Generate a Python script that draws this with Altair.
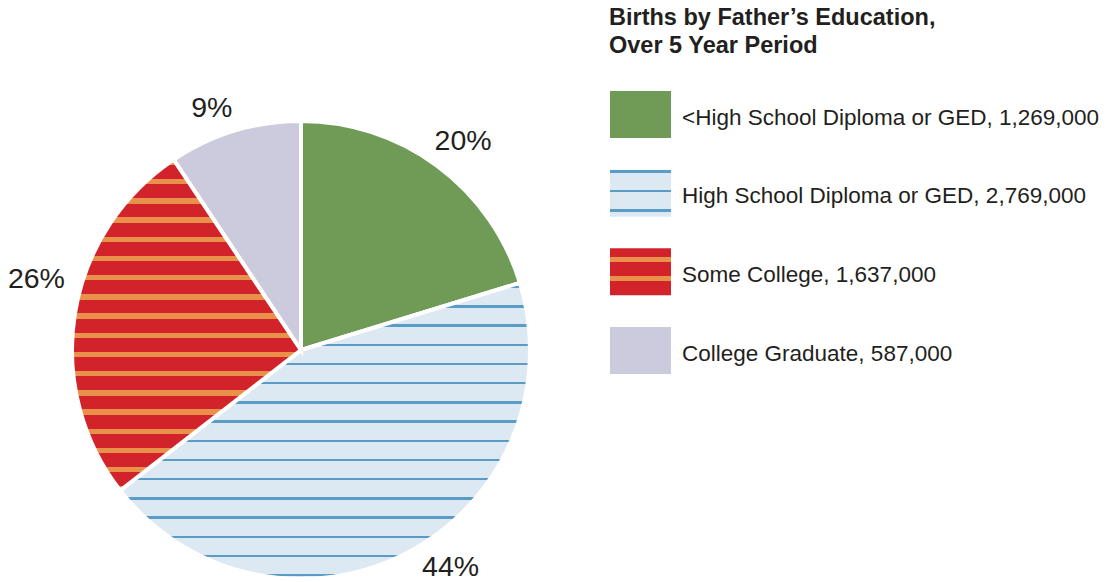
import math
import altair as alt
import pandas as pd

# ---- data ----
categories = [
    "<High School Diploma or GED",
    "High School Diploma or GED",
    "Some College",
    "College Graduate",
]
births = [1269000, 2769000, 1637000, 587000]
title_lines = ["Births by Father\u2019s Education,", "Over 5 Year Period"]

df = pd.DataFrame({"cat": categories, "births": births, "idx": list(range(len(categories)))})

FONT = "Liberation Sans"
TEXT = "#231f20"

# ---- styling helpers (striped fills via hard-stop gradients) ----
def stripes(bg, fg, height, period, thick, offset):
    stops = [{"offset": 0.0, "color": bg}]
    k = -2
    while True:
        c = offset + k * period
        s, e = c - thick / 2, c + thick / 2
        if s > height:
            break
        s, e = max(0.0, s), min(height, e)
        if e > s:
            stops += [
                {"offset": s / height, "color": bg},
                {"offset": s / height, "color": fg},
                {"offset": e / height, "color": fg},
                {"offset": e / height, "color": bg},
            ]
        k += 1
    stops.append({"offset": 1.0, "color": bg})
    return {"gradient": "linear", "x1": 0, "y1": 0, "x2": 0, "y2": 1, "stops": stops}


R = 229  # outer radius (white stroke eats half the stroke width)
total = sum(births)
bounds = []
acc = 0
for v in births:
    a0 = acc / total * 2 * math.pi
    acc += v
    a1 = acc / total * 2 * math.pi
    ys = [0.0, -R * math.cos(a0), -R * math.cos(a1)]
    if a0 <= math.pi <= a1:
        ys.append(R)
    if a0 <= 0 <= a1:
        ys.append(-R)
    bounds.append(max(ys) - min(ys))

GREEN = "#6f9b56"
LBLUE, BLUE = "#dce9f2", "#5a9cc5"
RED, ORANGE = "#d2232a", "#e9914a"
LAV = "#cccbdd"

pie_fills = [
    GREEN,
    stripes(LBLUE, BLUE, bounds[1], 19.2, 2.4, 4.4),
    stripes(RED, ORANGE, bounds[2], 19.2, 5.4, 2.9),
    LAV,
]
legend_fills = [
    GREEN,
    stripes(LBLUE, BLUE, 47, 19.5, 2.4, 2.0),
    stripes(RED, ORANGE, 47, 19.0, 5.4, 11.2),
    LAV,
]
label_nudge = [(4, 5), (27, -19), (-2, -28), (-12, 13)]

CX, CY = 293, 342

base = (
    alt.Chart(df)
    .transform_joinaggregate(tot="sum(births)")
    .transform_window(cum="sum(births)", sort=[alt.SortField("idx")], frame=[None, 0])
    .transform_calculate(
        end="datum.cum / datum.tot",
        start="(datum.cum - datum.births) / datum.tot",
        mid="(datum.cum - datum.births / 2) / datum.tot",
        pct="format(datum.births / datum.tot, '.0%')",
        label="datum.cat + ', ' + format(datum.births, ',')",
        idx2="datum.idx + 47 / 78.67",
    )
)

tscale = alt.Scale(domain=[0, 1], range=[0, 2 * math.pi])

layers = []
for i, c in enumerate(categories):
    layers.append(
        base.transform_filter(alt.datum.cat == c)
        .mark_arc(outerRadius=R, fill=pie_fills[i], stroke="white", strokeWidth=4, strokeJoin="miter")
        .encode(
            theta=alt.Theta("start:Q", scale=tscale),
            theta2="end:Q",
            x=alt.value(CX),
            y=alt.value(CY),
        )
    )
for i, c in enumerate(categories):
    dx, dy = label_nudge[i]
    layers.append(
        base.transform_filter(alt.datum.cat == c)
        .mark_text(radius=266, font=FONT, fontSize=28.5, color=TEXT, baseline="middle",
                   align="center", dx=dx, dy=dy)
        .encode(
            theta=alt.Theta("mid:Q", scale=tscale),
            x=alt.value(CX),
            y=alt.value(CY),
            text="pct:N",
        )
    )

yscale = alt.Scale(domain=[0, 4], range=[83, 83 + 4 * 78.67], nice=False, zero=False)
for i, c in enumerate(categories):
    layers.append(
        base.transform_filter(alt.datum.cat == c)
        .mark_rect(fill=legend_fills[i])
        .encode(
            x=alt.value(602),
            x2=alt.value(663),
            y=alt.Y("idx:Q", scale=yscale, axis=None),
            y2="idx2:Q",
        )
    )
layers.append(
    base.mark_text(font=FONT, fontSize=22.5, color=TEXT, align="left", baseline="middle", dy=26.5)
    .encode(x=alt.value(674), y=alt.Y("idx:Q", scale=yscale, axis=None), text="label:N")
)
layers.append(
    alt.Chart(pd.DataFrame({"t": ["\n".join(title_lines)]}))
    .mark_text(font=FONT, fontSize=23.5, fontWeight="bold", color=TEXT, align="left",
               baseline="alphabetic", lineBreak="\n", lineHeight=28)
    .encode(x=alt.value(601), y=alt.value(17), text="t:N")
)

chart = (
    alt.layer(*layers)
    .properties(width=1091, height=574, padding=0, autosize=alt.AutoSizeParams(type="none"))
    .configure_view(stroke=None)
)

chart.save("out.html", embed_options={"renderer": "svg", "actions": False})
